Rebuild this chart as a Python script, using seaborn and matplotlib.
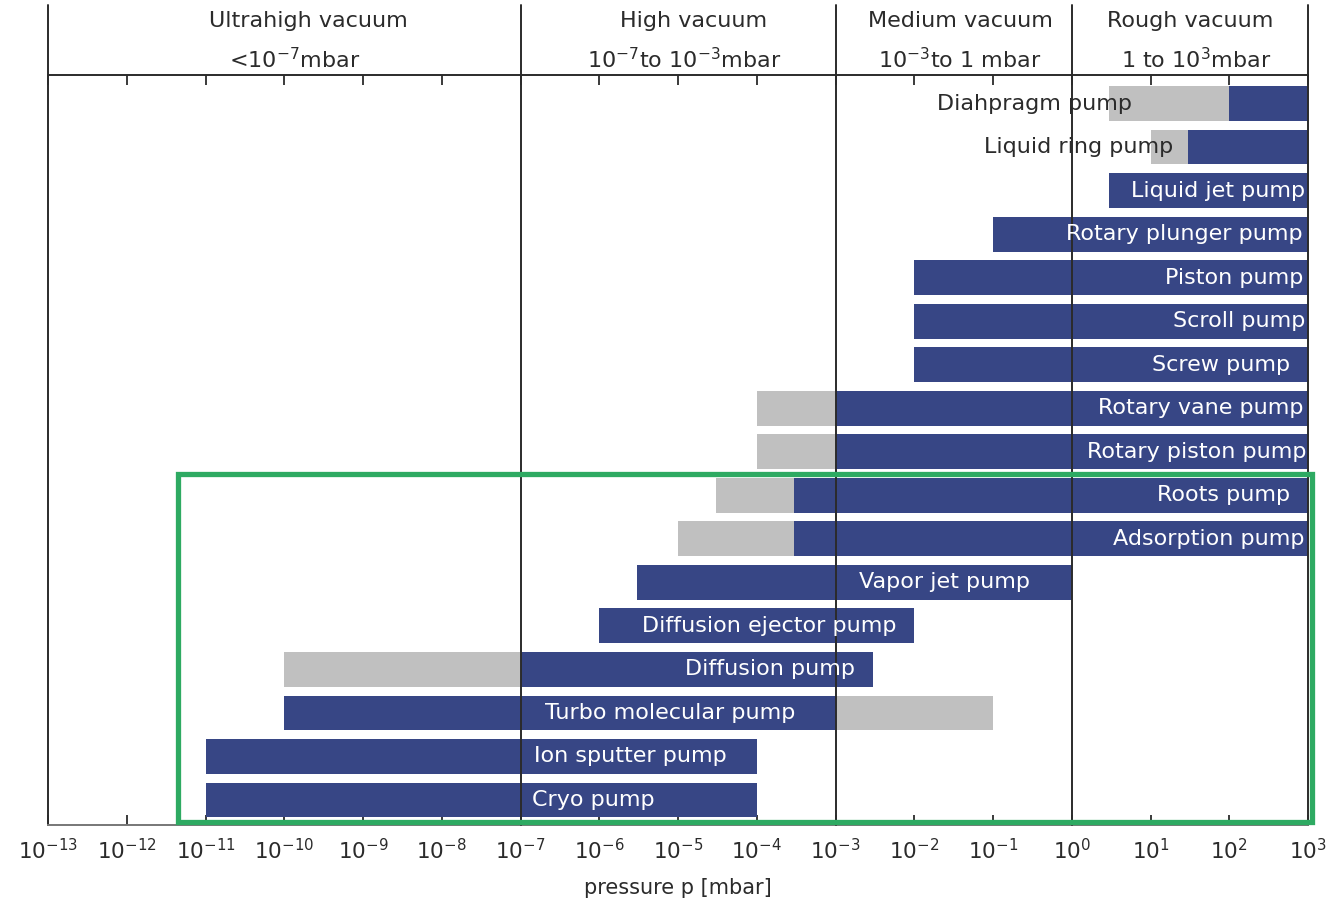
import numpy as np
import pandas as pd
import matplotlib
matplotlib.use("Agg")
import matplotlib.pyplot as plt
import matplotlib.transforms as mtransforms
from matplotlib.patches import Rectangle
from matplotlib.ticker import LogLocator, NullLocator
import seaborn as sns

# ---- data: working ranges of vacuum pumps (mbar) ----
pumps = ["Diahpragm pump", "Liquid ring pump", "Liquid jet pump", "Rotary plunger pump",
         "Piston pump", "Scroll pump", "Screw pump", "Rotary vane pump",
         "Rotary piston pump", "Roots pump", "Adsorption pump", "Vapor jet pump",
         "Diffusion ejector pump", "Diffusion pump", "Turbo molecular pump",
         "Ion sputter pump", "Cryo pump"]

# main operating range
main_lo = [1e2, 30, 3, 1e-1, 1e-2, 1e-2, 1e-2, 1e-3, 1e-3, 3e-4, 3e-4, 3e-6,
           1e-6, 1e-7, 1e-10, 1e-11, 1e-11]
main_hi = [1e3, 1e3, 1e3, 1e3, 1e3, 1e3, 1e3, 1e3, 1e3, 1e3, 1e3, 1,
           1e-2, 3e-3, 1e-3, 1e-4, 1e-4]

# extended range (NaN where a pump has none)
ext_lo = [3, 10, np.nan, np.nan, np.nan, np.nan, np.nan, 1e-4, 1e-4, 3e-5, 1e-5,
          np.nan, np.nan, 1e-10, 1e-3, np.nan, np.nan]
ext_hi = [1e2, 30, np.nan, np.nan, np.nan, np.nan, np.nan, 1e-3, 1e-3, 3e-4, 3e-4,
          np.nan, np.nan, 1e-7, 1e-1, np.nan, np.nan]

regions = ["Ultrahigh vacuum", "High vacuum", "Medium vacuum", "Rough vacuum"]
region_ranges = [r"<10$^{-7}$mbar", r"10$^{-7}$to 10$^{-3}$mbar",
                 r"10$^{-3}$to 1 mbar", r"1 to 10$^{3}$mbar"]
region_bounds = [1e-7, 1e-3, 1e0]

# ---- label placement (x position in mbar, alignment) ----
label_x = [0.34, 1.24, 916, 865, 865, 916, 590, 865, 970, 590, 916, 0.024,
           1.45e-4, 1.48e-4, 7.9e-6, 2.45e-6, 8.3e-7]
label_ha = ["center", "center"] + ["right"] * 9 + ["center"] * 6
label_dark = [True, True] + [False] * 15

NAVY = "#374685"
GREY = "#c0c0c0"
GREEN = "#2eaa62"
INK = "#2b2b2b"
FS = 16

sns.set_theme(style="white")
plt.rcParams["font.family"] = ["DejaVu Sans"]
plt.rcParams["mathtext.fontset"] = "dejavusans"
plt.rcParams["mathtext.default"] = "regular"

fig = plt.figure(figsize=(13.28, 9.02), dpi=100)
ax = fig.add_axes([48 / 1328, 77 / 902, 1260 / 1328, 750 / 902])

main = pd.DataFrame({"pump": pumps, "lo": main_lo, "hi": main_hi})
main["span"] = main["hi"] - main["lo"]
ext = pd.DataFrame({"pump": pumps, "lo": ext_lo, "hi": ext_hi}).dropna()
ext["span"] = ext["hi"] - ext["lo"]

sns.barplot(data=ext, x="span", y="pump", order=pumps, orient="y", color=GREY,
            saturation=1, width=0.8, errorbar=None, left=ext["lo"].to_numpy(),
            linewidth=0, ax=ax, zorder=2)
sns.barplot(data=main, x="span", y="pump", order=pumps, orient="y", color=NAVY,
            saturation=1, width=0.8, errorbar=None, left=main["lo"].to_numpy(),
            linewidth=0, ax=ax, zorder=2)

ax.set_xscale("log")
ax.set_xlim(1e-13, 1e3)
ax.set_ylim(len(pumps) - 1 + 0.575, -0.655)

# decade ticks on top and bottom, pointing inward
ax.xaxis.set_major_locator(LogLocator(base=10, numticks=30))
ax.xaxis.set_minor_locator(NullLocator())
ax.tick_params(axis="x", which="major", direction="in", top=True, bottom=True,
               length=7, width=1.3, color=INK, labelsize=15.5, pad=9, labelcolor=INK)
ax.set_yticks([])
ax.set_ylabel("")
ax.set_xlabel("pressure p [mbar]", fontsize=15, color=INK, labelpad=11)

# nudge the leftmost tick label so it stays inside the figure
fig.canvas.draw()
first = ax.get_xticklabels()[0]
first.set_transform(first.get_transform()
                    + mtransforms.ScaledTranslation(5 / 100, 0, fig.dpi_scale_trans))

for side in ["left", "right", "top", "bottom"]:
    ax.spines[side].set_visible(True)
    ax.spines[side].set_color(INK)
    ax.spines[side].set_linewidth(1.4)
ax.spines["bottom"].set_color("#777777")

# region dividers, continued up through the header band
xform = ax.get_xaxis_transform()
for b in region_bounds:
    ax.plot([b, b], [0, 1.093], transform=xform, color=INK, lw=1.4,
            clip_on=False, zorder=3)
for xa in [0, 1]:
    ax.plot([xa, xa], [1, 1.093], transform=ax.transAxes, color=INK, lw=1.4,
            clip_on=False, zorder=3)

# bar labels
for i, name in enumerate(pumps):
    ax.text(label_x[i], i, name, ha=label_ha[i], va="center", fontsize=FS,
            color=INK if label_dark[i] else "white", zorder=4)

# header band
head_x1 = [0.232, 0.5226, 0.7229, 0.896]
head_x2 = [0.222, 0.515, 0.7229, 0.9006]
for k in range(4):
    fig.text(head_x1[k], 1 - 21 / 902, regions[k], ha="center", va="center",
             fontsize=FS, color=INK)
    fig.text(head_x2[k], 1 - 60 / 902, region_ranges[k], ha="center", va="center",
             fontsize=FS, color=INK)

# highlight frame
ax.add_patch(Rectangle((0.103, 0.004), 0.9, 0.464, transform=ax.transAxes,
                       fill=False, edgecolor=GREEN, lw=3.8, clip_on=False, zorder=5))

fig.savefig("out.png", dpi=100, facecolor="white")
